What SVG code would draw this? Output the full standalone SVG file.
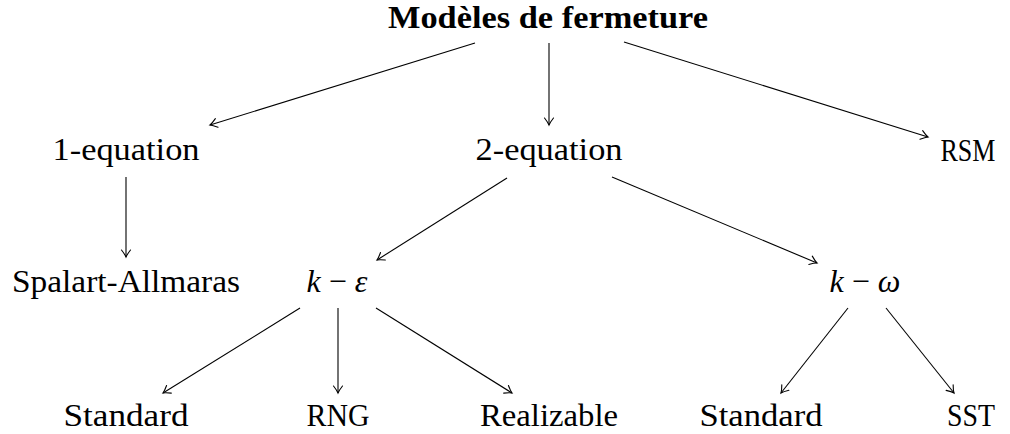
<svg xmlns="http://www.w3.org/2000/svg" width="1010" height="434" viewBox="0 0 1010 434">
<style>
text{font-family:"Liberation Serif","DejaVu Serif",serif;font-size:32px;fill:#000;text-anchor:middle}
.title{font-weight:bold;font-size:31px}
.m{font-style:italic}
.conn line{stroke:#000;stroke-width:1.1;fill:none;marker-end:url(#arr)}
</style>
<defs>
<marker id="arr" markerUnits="userSpaceOnUse" markerWidth="14" markerHeight="14" viewBox="-10 -7 12 14" refX="0" refY="0" orient="auto">
<path d="M-7,-4.5 Q-2.5,-1 0,0 Q-2.5,1 -7,4.5" fill="none" stroke="#000" stroke-width="1.1" stroke-linecap="round"/>
</marker>
</defs>
<rect width="1010" height="434" fill="#fff"/>
<g id="n-title"><text class="title" x="548" y="28" textLength="320" lengthAdjust="spacingAndGlyphs">Modèles de fermeture</text></g>
<g id="n-1eq"><text x="126" y="160" textLength="147" lengthAdjust="spacingAndGlyphs">1-equation</text></g>
<g id="n-2eq"><text x="549" y="160" textLength="147" lengthAdjust="spacingAndGlyphs">2-equation</text></g>
<g id="n-rsm"><text x="968" y="161" textLength="55" lengthAdjust="spacingAndGlyphs">RSM</text></g>
<g id="n-sa"><text x="126" y="292" textLength="228" lengthAdjust="spacingAndGlyphs">Spalart-Allmaras</text></g>
<g id="n-ke"><text x="337" y="292"><tspan class="m">k</tspan> − <tspan class="m">ε</tspan></text></g>
<g id="n-kw"><text x="865" y="292"><tspan class="m">k</tspan> − <tspan class="m">ω</tspan></text></g>
<g id="n-std1"><text x="126" y="426" textLength="125" lengthAdjust="spacingAndGlyphs">Standard</text></g>
<g id="n-rng"><text x="338" y="426" textLength="63" lengthAdjust="spacingAndGlyphs">RNG</text></g>
<g id="n-real"><text x="549" y="426" textLength="138" lengthAdjust="spacingAndGlyphs">Realizable</text></g>
<g id="n-std2"><text x="761" y="426" textLength="123" lengthAdjust="spacingAndGlyphs">Standard</text></g>
<g id="n-sst"><text x="971" y="426" textLength="48" lengthAdjust="spacingAndGlyphs">SST</text></g>
<g class="conn" id="connectors">
<line x1="475" y1="43" x2="210" y2="125"/>
<line x1="549" y1="43" x2="549" y2="125"/>
<line x1="624" y1="42" x2="928" y2="137"/>
<line x1="126" y1="177" x2="126" y2="257"/>
<line x1="507" y1="178" x2="377" y2="260"/>
<line x1="612" y1="177" x2="817" y2="263"/>
<line x1="300" y1="308" x2="163" y2="393"/>
<line x1="338" y1="308" x2="338" y2="393"/>
<line x1="376" y1="308" x2="512" y2="393"/>
<line x1="848" y1="308" x2="781" y2="393"/>
<line x1="886" y1="308" x2="954" y2="393"/>
</g>
</svg>
